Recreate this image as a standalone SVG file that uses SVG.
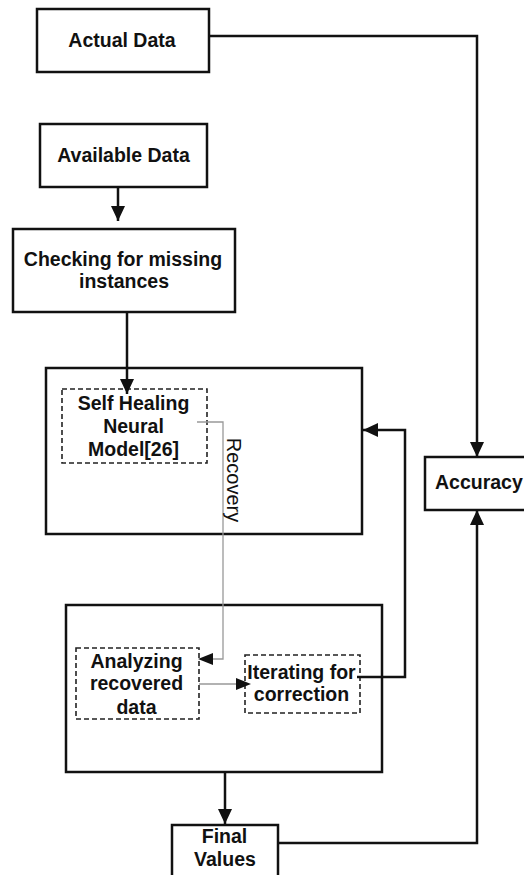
<svg xmlns="http://www.w3.org/2000/svg" width="524" height="875" viewBox="0 0 524 875">
<style>
.box{fill:#fff;stroke:#111;stroke-width:2.5}
.dash{fill:none;stroke:#222;stroke-width:1.6;stroke-dasharray:5,3}
.t{font-family:"Liberation Sans",Arial,sans-serif;font-weight:bold;font-size:19.5px;fill:#111;text-anchor:middle}
.c{fill:none;stroke:#111;stroke-width:2.5}
.g{fill:none;stroke:#999;stroke-width:1.3}
</style>
<defs>
<marker id="ah" markerUnits="userSpaceOnUse" markerWidth="16" markerHeight="14" refX="15" refY="7" orient="auto">
<path d="M0,0 L15,7 L0,14 z" fill="#111"/>
</marker>
</defs>
<rect width="524" height="875" fill="#fff"/>
<g id="actual-data"><rect class="box" x="37" y="9" width="172" height="63"/><text class="t" x="122" y="46.5">Actual Data</text></g>
<g id="available-data"><rect class="box" x="40" y="124" width="167" height="63"/><text class="t" x="123.5" y="162">Available Data</text></g>
<g id="checking"><rect class="box" x="13" y="229" width="222" height="83"/><text class="t" x="123" y="266">Checking for missing</text><text class="t" x="124" y="288">instances</text></g>
<g id="self-healing-block"><rect class="box" x="46" y="368" width="316" height="166"/></g>
<g id="self-healing"><rect class="dash" x="62" y="389" width="145" height="74"/><text class="t" x="133.5" y="410">Self Healing</text><text class="t" x="133.5" y="433">Neural</text><text class="t" x="133.5" y="456">Model[26]</text></g>
<g id="correction-block"><rect class="box" x="66" y="605" width="316" height="167"/></g>
<g id="analyzing"><rect class="dash" x="76" y="648" width="123" height="71"/><text class="t" x="136.5" y="667.5">Analyzing</text><text class="t" x="136.5" y="690">recovered</text><text class="t" x="136.5" y="713.5">data</text></g>
<g id="iterating"><rect class="dash" x="245" y="655" width="115" height="58"/><text class="t" x="301.5" y="679">Iterating for</text><text class="t" x="301.5" y="701">correction</text></g>
<g id="accuracy"><rect class="box" x="425" y="457" width="102" height="53"/><text class="t" x="435" y="489" style="text-anchor:start">Accuracy</text></g>
<g id="final-values"><rect class="box" x="172" y="825" width="106" height="55"/><text class="t" x="224.5" y="843">Final</text><text class="t" x="225" y="866">Values</text></g>
<g id="connectors">
<path class="c" d="M209,36 H477 V457" marker-end="url(#ah)"/>
<path class="c" d="M118,187 V221" marker-end="url(#ah)"/>
<path class="c" d="M127,312 V394" marker-end="url(#ah)"/>
<path class="g" d="M197,422 H223 V659 H212"/>
<path d="M198,659 L213,653 L213,665 z" fill="#111"/>
<path class="g" d="M199,684 H236"/>
<path d="M251,684 L236,678 L236,690 z" fill="#111"/>
<path class="c" d="M357,677 H405 V430 H363" marker-end="url(#ah)"/>
<path class="c" d="M225,772 V824" marker-end="url(#ah)"/>
<path class="c" d="M278,843 H477 V510" marker-end="url(#ah)"/>
<text x="0" y="0" style="font-family:'Liberation Sans',Arial,sans-serif;font-size:20px;fill:#111;text-anchor:middle" transform="translate(227,480) rotate(90)">Recovery</text>
</g>
</svg>
